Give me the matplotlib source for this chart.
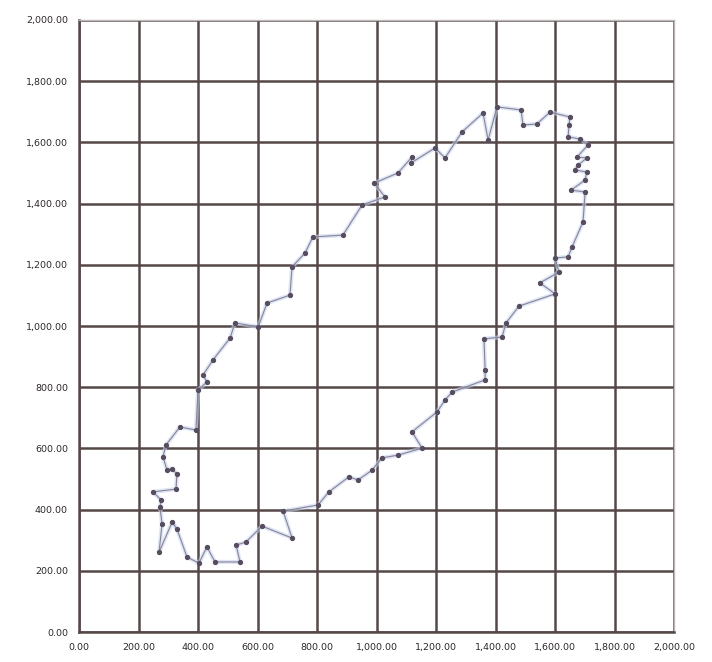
import numpy as np
import matplotlib
matplotlib.use('Agg')
import matplotlib.pyplot as plt
from matplotlib.ticker import FuncFormatter, MultipleLocator

# tour coordinates, visited in this order (the loop closes back on the first city)
route_x = [400, 393, 339, 292, 282, 296, 313, 329, 326, 249, 276, 272, 279, 269,
           313, 329, 363, 403, 430, 457, 541, 528, 561, 615, 716, 686, 803, 840,
           907, 938, 985, 1018, 1072, 1153, 1119, 1203, 1230, 1254, 1365, 1365,
           1361, 1422, 1435, 1479, 1600, 1549, 1613, 1600, 1644, 1657, 1694, 1701,
           1654, 1701, 1707, 1667, 1677, 1707, 1674, 1711, 1684, 1644, 1647, 1650,
           1583, 1539, 1492, 1486, 1405, 1375, 1358, 1287, 1230, 1197, 1116, 1119,
           1072, 992, 1028, 951, 887, 786, 760, 716, 709, 632, 602, 524, 508, 450,
           417, 430]
route_y = [791, 660, 670, 611, 572, 529, 533, 516, 467, 458, 431, 409, 353, 261,
           359, 337, 245, 225, 278, 229, 229, 284, 294, 346, 307, 395, 415, 458,
           507, 497, 529, 569, 578, 601, 654, 719, 758, 784, 824, 856,
           958, 964, 1010, 1065, 1105, 1141, 1176, 1222, 1226, 1258, 1340, 1438,
           1444, 1477, 1503, 1510, 1526, 1549, 1552, 1592, 1611, 1618, 1657, 1683,
           1699, 1660, 1657, 1706, 1716, 1608, 1696, 1634, 1549, 1582, 1533, 1552,
           1500, 1467, 1422, 1395, 1297, 1291, 1239, 1193, 1101, 1075, 997, 1010, 961, 889,
           840, 817]

axis_max = 2000
grid_step = 200

# close the circuit
Pt = np.array(list(zip(route_x, route_y)) + [(route_x[0], route_y[0])])

fig = plt.figure(figsize=(7.12, 6.62), dpi=100)
ax = fig.add_axes([0.111, 0.0453, 0.8357, 0.9245])

grid_col = '#554848'
ax.set_xlim(0, axis_max)
ax.set_ylim(0, axis_max)
ax.xaxis.set_major_locator(MultipleLocator(grid_step))
ax.yaxis.set_major_locator(MultipleLocator(grid_step))
ax.grid(True, color=grid_col, linewidth=1.8, zorder=0)

fmt = FuncFormatter(lambda v, pos: f'{v:,.2f}')
ax.xaxis.set_major_formatter(fmt)
ax.yaxis.set_major_formatter(fmt)
ax.tick_params(length=0, labelsize=6.8, labelcolor='#2e2828', pad=8)

for side in ['left', 'bottom']:
    ax.spines[side].set_color(grid_col)
    ax.spines[side].set_linewidth(1.8)
for side in ['top', 'right']:
    ax.spines[side].set_color('#c0b8b8')
    ax.spines[side].set_linewidth(1.0)

# soft blue trail under the route
ax.plot(Pt[:, 0], Pt[:, 1], '-', color='#c6d6f0', linewidth=3.0, alpha=0.6, zorder=2)
# the route itself with the cities as dots
ax.plot(Pt[:, 0], Pt[:, 1], '-', color='#8c8296', linewidth=0.8, zorder=3)
ax.plot(route_x, route_y, 'o', color='#574d5e', markersize=2.8, zorder=4)

fig.savefig('out.png', dpi=100, facecolor='white')
